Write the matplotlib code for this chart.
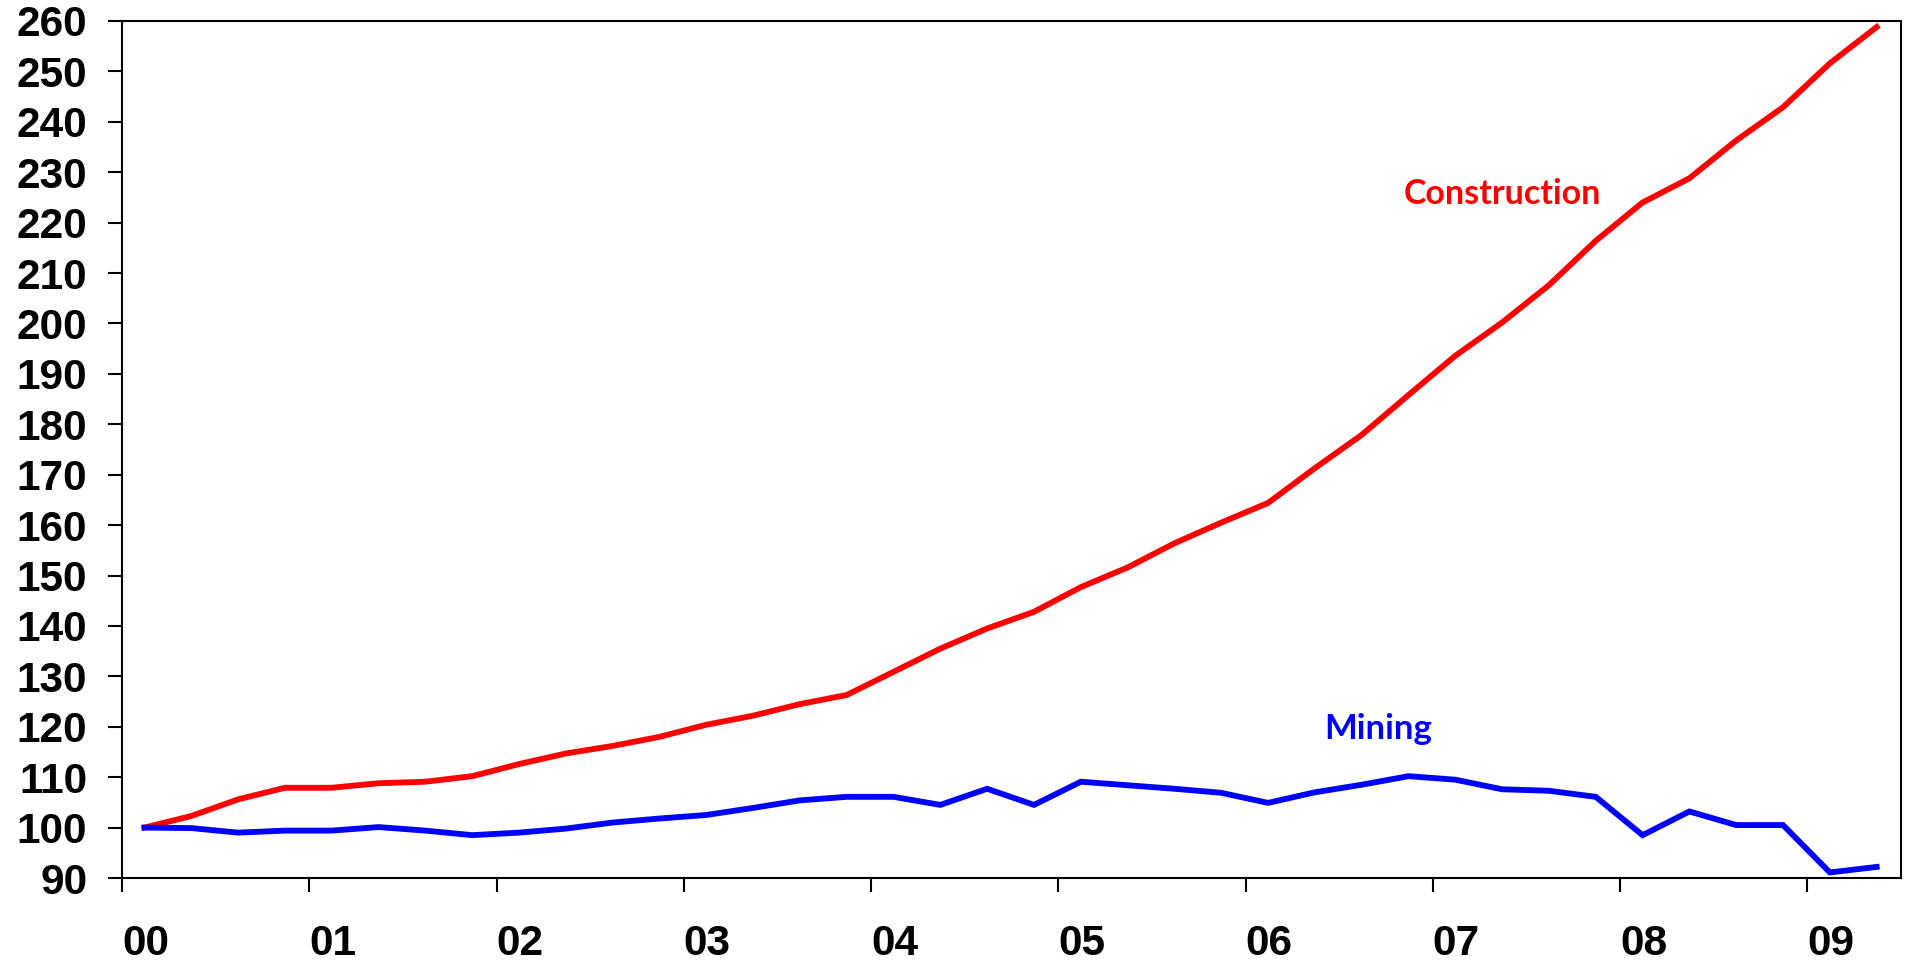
import matplotlib
matplotlib.use("Agg")
import matplotlib.pyplot as plt
import numpy as np

# ---- data ----
years = ["00", "01", "02", "03", "04", "05", "06", "07", "08", "09"]
quarters = [f"20{y}Q{q}" for y in years for q in range(1, 5)][:38]  # 2000Q1 .. 2009Q2

construction = [100, 102.3, 105.6, 107.9, 107.9, 108.8, 109.1, 110.2, 112.6, 114.7,
                116.2, 118.0, 120.4, 122.2, 124.5, 126.3, 130.9, 135.5, 139.5, 142.8,
                147.7, 151.6, 156.4, 160.5, 164.4, 171.3, 177.9, 185.8, 193.6, 200.2,
                207.6, 216.4, 224.0, 228.8, 236.3, 242.9, 251.6, 258.8]
mining = [100, 99.9, 99.0, 99.4, 99.4, 100.1, 99.4, 98.5, 99.0, 99.8,
          101.0, 101.8, 102.5, 103.9, 105.4, 106.1, 106.1, 104.5, 107.7, 104.5,
          109.1, 108.4, 107.7, 106.9, 104.9, 107.0, 108.5, 110.2, 109.5, 107.6,
          107.3, 106.1, 98.5, 103.2, 100.5, 100.5, 91.1, 92.2]
y_ticks = list(range(90, 261, 10))

# ---- positions (fractional year since 2000) ----
x = np.array([int(q[2:4]) + (int(q[-1]) - 1) * 0.25 + 0.12 for q in quarters])

fig = plt.figure(figsize=(19.12, 9.63), dpi=100)
ax = fig.add_axes([122 / 1912, 1 - 878 / 963, (1901 - 122) / 1912, (878 - 21) / 963])

ax.plot(x, construction, color="#FF0000", lw=4.2, solid_joinstyle="miter", zorder=3)
ax.plot(x, mining, color="#0000FF", lw=4.2, solid_joinstyle="miter", zorder=3)

ax.set_xlim(0, 9.5)
ax.set_ylim(90, 260)
ax.set_yticks(y_ticks)
ax.set_yticklabels([str(v) for v in y_ticks])
ax.set_xticks(range(len(years)))
ax.set_xticklabels(years)
for lbl in ax.get_xticklabels():
    lbl.set_horizontalalignment("left")

for s in ax.spines.values():
    s.set_linewidth(1.5)
    s.set_color("black")

ax.tick_params(axis="both", direction="out", length=10, width=1.5, color="black")
ax.tick_params(axis="y", pad=15)
ax.tick_params(axis="x", pad=23)
for lbl in ax.get_xticklabels() + ax.get_yticklabels():
    lbl.set_fontfamily("Liberation Sans")
    lbl.set_fontweight("bold")
    lbl.set_fontsize(30.5)

ax.text(7.37, 223.7, "Construction", color="#FF0000", fontsize=24.5, fontweight="bold",
        family="Lato", ha="center", va="baseline")
ax.text(6.71, 117.6, "Mining", color="#0000FF", fontsize=25, fontweight="bold",
        family="Lato", ha="center", va="baseline")

fig.savefig("out.png", dpi=100)
